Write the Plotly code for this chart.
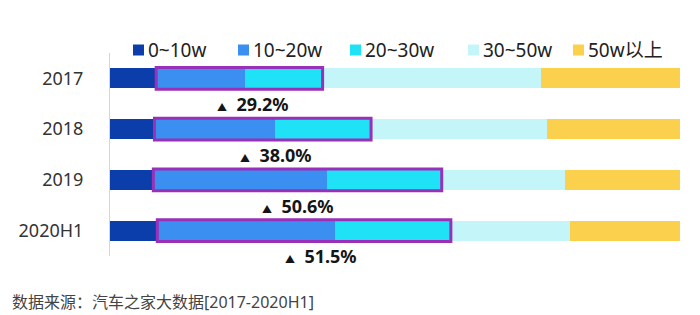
import plotly.graph_objects as go

years = ["2017", "2018", "2019", "2020H1"]
series_names = ["0~10w", "10~20w", "20~30w", "30~50w", "50w以上"]
v_0_10 = [8.1, 7.8, 7.6, 8.3]
v_10_20 = [15.6, 21.2, 30.5, 31.2]
v_20_30 = [13.6, 16.8, 20.1, 20.3]
v_30_50 = [38.4, 30.9, 21.7, 20.9]
v_50_up = [24.3, 23.3, 20.1, 19.3]
growth_labels = ["29.2%", "38.0%", "50.6%", "51.5%"]
label_x = [18.4, 22.5, 26.3, 30.4]

colors = ["#0b3dab", "#3a8ff0", "#1fe2f6", "#c4f6f9", "#fbd04c"]
purple = "#9a2fb8"
series = [v_0_10, v_10_20, v_20_30, v_30_50, v_50_up]

FONT = "Noto Sans, Noto Sans CJK SC, sans-serif"

# layout geometry (pixels)
W, H = 700, 315
ML, MR, MT, MB = 110, 20, 53, 59
PW, PH = W - ML - MR, H - MT - MB
legend_sq_px = [133, 238, 350, 468, 573]
legend_y_px = 50


def px_x(px):
    return (px - ML) / PW


def px_y(py):
    return (H - MB - py) / PH


fig = go.Figure()
for name, vals, col in zip(series_names, series, colors):
    fig.add_trace(go.Bar(
        y=years, x=vals, name=name, orientation="h",
        marker=dict(color=col, line=dict(width=0)),
        width=0.39, hoverinfo="skip", showlegend=False,
    ))

shapes = []
annotations = []
for i, y in enumerate(years):
    x0 = v_0_10[i]
    x1 = v_0_10[i] + v_10_20[i] + v_20_30[i]
    shapes.append(dict(
        type="rect", xref="x", yref="y", x0=x0, x1=x1,
        y0=i - 0.215, y1=i + 0.215,
        line=dict(color=purple, width=3), fillcolor="rgba(0,0,0,0)",
    ))
    annotations.append(dict(
        xref="x", yref="y", x=label_x[i], y=i + 0.48, yshift=-1.5,
        xanchor="left", yanchor="middle", showarrow=False,
        text="<span style='font-size:10px'>▲</span>  <b>" + growth_labels[i] + "</b>",
        font=dict(family=FONT, size=18, color="#151515"),
    ))

# legend (manual, to match spacing)
for name, col, sx in zip(series_names, colors, legend_sq_px):
    shapes.append(dict(
        type="rect", xref="paper", yref="paper",
        x0=px_x(sx), x1=px_x(sx + 11),
        y0=px_y(legend_y_px + 5.5), y1=px_y(legend_y_px - 5.5),
        line=dict(width=0), fillcolor=col,
    ))
    annotations.append(dict(
        xref="paper", yref="paper", x=px_x(sx + 13), y=px_y(legend_y_px),
        xanchor="left", yanchor="middle", showarrow=False,
        text=name, font=dict(family=FONT, size=19, color="#222222"),
    ))

annotations.append(dict(
    xref="paper", yref="paper", x=px_x(10), y=px_y(302),
    xanchor="left", yanchor="middle", showarrow=False,
    text="数据来源：汽车之家大数据[2017-2020H1]",
    font=dict(family=FONT, size=16, color="#444444"),
))

fig.update_layout(
    width=W, height=H,
    margin=dict(l=ML, r=MR, t=MT, b=MB, autoexpand=False),
    paper_bgcolor="white", plot_bgcolor="white",
    barmode="stack", bargap=0.6,
    showlegend=False,
    xaxis=dict(range=[0, 100], visible=False, fixedrange=True),
    yaxis=dict(
        type="category", range=[3.5, -0.5], autorange=False,
        showline=True, linecolor="#d6d6d6", linewidth=1,
        showgrid=False, zeroline=False, ticks="",
        ticklabelstandoff=22,
        tickfont=dict(family=FONT, size=18, color="#333333"),
    ),
    shapes=shapes, annotations=annotations,
)

fig.write_html("out.html")
